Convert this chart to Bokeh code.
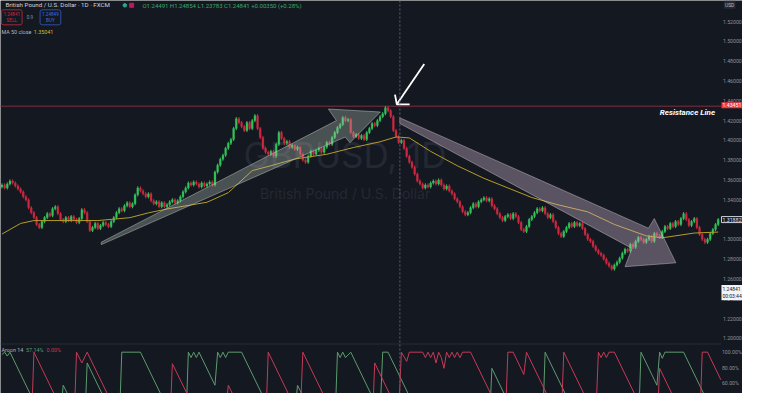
import numpy as np
from bokeh.plotting import figure
from bokeh.models import Range1d, Span, Label
from bokeh.embed import file_html
from bokeh.resources import INLINE
from bokeh.core.properties import value

# ---------------- data ----------------
closes = [
    1.355, 1.352, 1.356, 1.359, 1.357, 1.354, 1.351, 1.348, 1.343, 1.340,
    1.332, 1.327, 1.322, 1.315, 1.312, 1.318, 1.322, 1.326, 1.324, 1.331,
    1.333, 1.326, 1.320, 1.318, 1.322, 1.319, 1.323, 1.320, 1.317, 1.321,
    1.330, 1.327, 1.318, 1.309, 1.312, 1.316, 1.311, 1.314, 1.317, 1.315,
    1.313, 1.318, 1.322, 1.327, 1.331, 1.329, 1.334, 1.337, 1.333, 1.336,
    1.345, 1.352, 1.349, 1.346, 1.343, 1.346, 1.339, 1.336, 1.338, 1.333,
    1.337, 1.333, 1.335, 1.338, 1.340, 1.337, 1.339, 1.343, 1.348, 1.352,
    1.357, 1.355, 1.358, 1.356, 1.353, 1.357, 1.354, 1.356, 1.358, 1.355,
    1.368, 1.375, 1.381, 1.385, 1.392, 1.397, 1.401, 1.412, 1.422, 1.418,
    1.414, 1.410, 1.418, 1.412, 1.420, 1.425, 1.412, 1.403, 1.392, 1.388,
    1.386, 1.389, 1.384, 1.396, 1.408, 1.402, 1.397, 1.399, 1.393, 1.395,
    1.391, 1.393, 1.386, 1.380, 1.378, 1.384, 1.389, 1.386, 1.390, 1.392,
    1.388, 1.393, 1.398, 1.396, 1.403, 1.408, 1.413, 1.416, 1.423, 1.420,
    1.421, 1.408, 1.404, 1.406, 1.402, 1.405, 1.401, 1.408, 1.412, 1.417,
    1.415, 1.420, 1.424, 1.427, 1.433, 1.430, 1.424, 1.410, 1.404, 1.398,
    1.400, 1.392, 1.384, 1.378, 1.373, 1.366, 1.359, 1.356, 1.352, 1.355,
    1.353, 1.357, 1.359, 1.356, 1.360, 1.355, 1.351, 1.354, 1.349, 1.346,
    1.341, 1.338, 1.333, 1.328, 1.325, 1.327, 1.332, 1.336, 1.333, 1.338,
    1.340, 1.342, 1.339, 1.341, 1.334, 1.331, 1.326, 1.322, 1.319, 1.323,
    1.325, 1.321, 1.326, 1.323, 1.317, 1.310, 1.308, 1.313, 1.320, 1.323,
    1.327, 1.331, 1.329, 1.332, 1.326, 1.322, 1.325, 1.318, 1.312, 1.306,
    1.303, 1.308, 1.312, 1.316, 1.313, 1.317, 1.314, 1.316, 1.311, 1.305,
    1.300, 1.298, 1.293, 1.289, 1.286, 1.284, 1.280, 1.276, 1.273, 1.270,
    1.274, 1.277, 1.281, 1.286, 1.290, 1.288, 1.295, 1.292, 1.298, 1.302,
    1.300, 1.297, 1.300, 1.303, 1.298, 1.306, 1.304, 1.302, 1.308, 1.313,
    1.311, 1.316, 1.313, 1.318, 1.315, 1.321, 1.326, 1.320, 1.314, 1.318,
    1.321, 1.312, 1.305, 1.300, 1.297, 1.300, 1.306, 1.310, 1.315, 1.320,
]
first_open = 1.353
wick = 0.0016

ma_idx = [0, 7, 12, 36, 48, 55, 62, 77, 85, 94, 101, 110, 122, 132, 142, 148, 153,
          161, 171, 181, 190, 199, 208, 220, 230, 242, 248, 260, 269]
ma_val = [1.3054, 1.3161, 1.3190, 1.3190, 1.3219, 1.3268, 1.3307, 1.3375, 1.3472,
          1.3695, 1.3744, 1.3812, 1.3860, 1.3928, 1.3986, 1.4035, 1.4025, 1.3889,
          1.3744, 1.3617, 1.3520, 1.3423, 1.3355, 1.3278, 1.3151, 1.3035, 1.3016,
          1.3064, 1.3074]

up_idx = [0, 1, 2, 3, 17, 22, 23, 24, 31, 32, 44, 45, 52, 66, 69, 70, 71, 72, 73, 74,
          80, 81, 82, 83, 84, 85, 90, 104, 110, 111, 112, 119, 125, 126, 127, 128, 129,
          131, 142, 143, 145, 159, 183, 184, 195, 203, 204, 218, 239, 240, 246, 247,
          248, 249, 256, 270]
up_val = [97, 100, 95, 100, 0, 20, 57, 50, 0, 86, 0, 100, 100, 0, 0, 100, 93, 100, 93, 100,
          57, 100, 93, 100, 93, 100, 100, 0, 20, 57, 50, 0, 0, 100, 93, 100, 93,
          100, 21, 100, 100, 0, 0, 79, 0, 0, 100, 0, 0, 100, 57, 100,
          92, 100, 100, 0]

dn_idx = [0, 4, 11, 12, 26, 27, 28, 30, 32, 46, 63, 64, 76, 84, 85, 86, 93, 99, 100,
          112, 113, 127, 139, 140, 149, 150, 152, 153, 158, 159, 160, 161, 162, 163,
          164, 165, 166, 167, 168, 169, 170, 171, 172, 173, 176, 189, 190, 192, 196,
          197, 210, 211, 223, 224, 225, 226, 227, 228, 230, 244, 246, 247, 258, 262,
          263, 265, 270]
dn_val = [30, 0, 0, 100, 0, 0, 100, 86, 100, 0, 0, 85, 0, 20, 57, 50, 0, 0, 100,
          14, 100, 0, 0, 86, 21, 100, 88, 100, 100, 93, 100, 93, 100, 86,
          100, 93, 79, 100, 93, 100, 93, 100, 93, 100, 100, 7, 100, 100, 71,
          100, 7, 100, 14, 100, 93, 100, 93, 100, 100, 0, 0, 79, 0, 0,
          100, 100, 64]

price_ticks = [1.20, 1.22, 1.24, 1.26, 1.28, 1.30, 1.32, 1.34, 1.36, 1.38, 1.40,
               1.42, 1.44, 1.46, 1.48, 1.50, 1.52]
price_tick_labels = ["%.5f" % t for t in price_ticks]
aroon_ticks = [100, 80, 60]
aroon_tick_labels = ["100.00%", "80.00%", "60.00%"]

resistance = 1.43451
mark_price = 1.31882
last_price = 1.24841
last_time = "00:03:44"

# arrows drawn on the chart (bar index, price)
up_arrow_x = [37.3, 125.6, 122.6, 142.1, 130.7, 128.9, 37.3]
up_arrow_y = [1.2972, 1.4200, 1.4317, 1.4287, 1.3977, 1.4034, 1.2947]
down_arrow_x = [149.4, 242.8, 245.0, 253.1, 234.0, 236.6, 149.4]
down_arrow_y = [1.4229, 1.3113, 1.3210, 1.2763, 1.2724, 1.2909, 1.4171]
pointer_x = [158.6, 148.3]
pointer_y = [1.4773, 1.4365]
pointer_head_x = [147.6, 148.3, 153.1]
pointer_head_y = [1.4462, 1.4365, 1.4365]

# ---------------- layout helpers (reference pixels -> data) ----------------
X0, DX = 1.5, 2.72
Y0, P0, PPX = 22.0, 1.52, 1030.0


def bx(px):
    return (px - X0) / DX


def py(pyy):
    return P0 - (pyy - Y0) / PPX


BG = "#141821"
GREEN = "#33c25a"
RED = "#cc2a42"
AXIS_TXT = "#8d919b"
FONT = "Roboto"

n = len(closes)
idx = np.arange(n)
c = np.array(closes)
o = np.concatenate([[first_open], c[:-1]])
hi = np.maximum(o, c) + wick
lo = np.minimum(o, c) - wick
cols = [GREEN if cc >= oo else RED for oo, cc in zip(o, c)]

p = figure(width=742, height=393,
           x_range=Range1d(bx(0), bx(758)),
           y_range=Range1d(py(409), py(0)),
           x_axis_location=None, y_axis_location=None,
           output_backend="svg", toolbar_location=None,
           background_fill_color=BG, border_fill_color=BG,
           outline_line_color=None, min_border=0)
p.extra_y_ranges = {"aroon": Range1d(100 - (409 - 366) / 0.8, 100 + 366 / 0.8)}
p.grid.visible = False

# watermark
p.text(x=[bx(352)], y=[py(161)], text=["GBPUSD, 1D"], text_align="center",
       text_baseline="middle", text_font_size="35px", text_color="#242833",
       text_font=value("Inter"))
p.text(x=[bx(352)], y=[py(201)], text=["British Pound / U.S. Dollar"], text_align="center",
       text_baseline="middle", text_font_size="14px", text_color="#242833",
       text_font=value("Inter"))

# lines
p.segment(x0=[bx(0)], y0=[resistance], x1=[bx(736)], y1=[resistance],
          line_color="#5e2535", line_width=1.3)
p.segment(x0=[bx(0)], y0=[py(357.5)], x1=[bx(736)], y1=[py(357.5)],
          line_color="#262a35", line_width=1)
p.add_layout(Span(location=bx(408), dimension="height", line_color="#5f636e",
                  line_dash="2 2", line_width=1))

# candles
p.segment(idx, hi, idx, lo, color=cols, line_width=1)
p.vbar(x=idx, width=0.72, top=np.maximum(o, c), bottom=np.minimum(o, c),
       fill_color=cols, line_color=cols, line_width=0.3)

# MA
p.line(ma_idx, ma_val, line_color="#b89c28", line_width=1)

# Aroon
p.line(up_idx, up_val, y_range_name="aroon", line_color="#5c9c6c", line_width=1)
p.line(dn_idx, dn_val, y_range_name="aroon", line_color="#c63a57", line_width=1)

# arrows
p.patch(up_arrow_x, up_arrow_y, fill_color="#b8c6ba", fill_alpha=0.33,
        line_color="#cfd8d1", line_alpha=0.45, line_width=1)
p.patch(down_arrow_x, down_arrow_y, fill_color="#d9bcd4", fill_alpha=0.36,
        line_color="#e0cfdc", line_alpha=0.42, line_width=1)
p.line(pointer_x, pointer_y, line_color="white", line_width=1.8)
p.line(pointer_head_x, pointer_head_y, line_color="white", line_width=1.8)

p.text(x=[bx(730)], y=[py(116.5)], text=["Resistance Line"], text_align="right",
       text_baseline="middle", text_font_size="8px", text_font_style="bold italic",
       text_color="white", text_font=value(FONT))

# price scale (right)
p.text(x=[bx(738)] * len(price_ticks), y=price_ticks, text=price_tick_labels,
       text_baseline="middle", text_font_size="5.2px", text_color=AXIS_TXT,
       text_font=value(FONT))
p.text(x=[bx(737)] * len(aroon_ticks), y=aroon_ticks, text=aroon_tick_labels,
       y_range_name="aroon", text_baseline="middle", text_font_size="5.2px",
       text_color=AXIS_TXT, text_font=value(FONT))


def lab(x, y, text, color, size="6px", **kw):
    p.add_layout(Label(x=bx(x), y=py(y), text=text, text_color=color,
                       text_font_size=size, text_baseline="middle",
                       text_font=FONT, **kw))


# header
lab(5, 5, "British Pound / U.S. Dollar · 1D · FXCM", "#d1d4dc", "6.2px")
p.scatter([bx(127)], [py(5)], size=3.5, color="#22ab94")
p.scatter([bx(134)], [py(5)], size=4, marker="square", color="#c2185b")
lab(145, 5, "O1.24491 H1.24854 L1.23783 C1.24841 +0.00350 (+0.28%)", "#3aa86a", "6px")
lab(11.5, 17.5, "1.24841\nSELL", RED, "4.6px", text_align="center",
    background_fill_color=BG, border_line_color="#a02a3c", padding=2, border_radius=2)
lab(30, 17.5, "0.9", AXIS_TXT, "4.6px", text_align="center")
lab(51, 17.5, "1.24849\nBUY", "#3b6fe0", "4.6px", text_align="center",
    background_fill_color=BG, border_line_color="#2b4fa8", padding=2, border_radius=2)
lab(1, 33, "MA 50 close", "#b2b5be", "5.4px")
lab(34, 33, "1.35041", "#d8b830", "5.4px")
lab(1, 363.5, "Aroon 14", "#b2b5be", "5.4px")
lab(26, 363.5, "57.14%", "#5c9c6c", "5.4px")
lab(47, 363.5, "0.00%", "#c63a57", "5.4px")

# axis tags
lab(739, 4.5, "USD", "#b2b5be", "5px", background_fill_color="#262a35", padding=1)
lab(736.5, 109, "%.5f" % resistance, "white", "5.2px",
    background_fill_color="#f23645", padding=1)
lab(736.5, 228, "%.5f" % mark_price, "#e0e3eb", "5.2px",
    background_fill_color=BG, border_line_color="#d1d4dc", padding=1)
lab(736.5, 304, "%.5f\n%s" % (last_price, last_time), "#131722", "5px",
    background_fill_color="#f0f3fa", padding=1)

open("out.html", "w").write(file_html(p, INLINE))
